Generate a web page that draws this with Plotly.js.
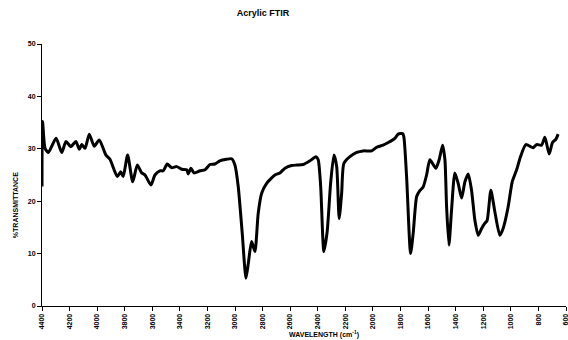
<!DOCTYPE html>
<html><head><meta charset="utf-8">
<script src="https://cdn.plot.ly/plotly-3.0.1.min.js"></script>
<style>html,body{margin:0;padding:0;background:#fff}#chart{width:568px;height:340px}</style>
</head><body><div id="chart"></div>
<script>
const wavenumber = [4400,4396,4378,4354,4298,4257,4226,4192,4154,4130,4112,4088,4057,4021,3985,3936,3907,3854,3829,3811,3779,3742,3709,3677,3653,3610,3581,3545,3521,3492,3460,3423,3387,3351,3339,3320,3298,3254,3218,3182,3146,3110,3061,3025,3001,2977,2948,2921,2904,2880,2856,2832,2807,2771,2711,2675,2638,2590,2553,2506,2457,2414,2397,2379,2356,2332,2307,2283,2263,2245,2227,2211,2167,2118,2071,2010,1973,1926,1889,1841,1817,1785,1776,1756,1727,1708,1683,1660,1636,1611,1587,1544,1520,1495,1478,1466,1449,1430,1406,1382,1357,1333,1309,1285,1261,1237,1212,1188,1172,1145,1116,1080,1056,1019,990,958,930,891,838,813,777,753,722,698,674,657];
const transmittance = [22.8,35.2,30.1,29.3,32.0,29.3,31.4,30.4,31.4,29.9,30.8,30.1,32.8,30.5,31.7,28.8,28.0,24.7,25.6,24.7,28.8,23.7,26.9,25.4,25.0,23.1,25.0,25.8,25.8,27.1,26.4,26.6,26.1,26.0,25.2,26.3,25.4,25.8,26.0,27.0,27.1,27.7,28.0,28.1,26.9,22.8,13.9,5.3,8.1,12.3,10.4,17.7,21.5,23.4,25.0,25.4,26.3,26.8,26.9,27.0,27.7,28.5,27.9,22.8,10.4,14.2,23.4,28.8,26.6,16.7,21.5,27.2,28.5,29.3,29.6,29.6,30.3,30.7,31.2,32.0,32.8,32.9,32.3,24.7,10.0,13.9,20.9,22.0,22.7,25.0,27.9,26.3,27.9,30.7,27.9,19.0,11.6,18.3,25.4,23.4,20.6,23.7,25.2,22.1,16.4,13.5,14.8,15.8,16.3,22.1,18.0,13.5,14.8,19.0,23.7,26.0,28.5,30.8,30.2,30.8,30.7,32.2,29.0,31.2,31.8,32.8];
const xTicks = [4400,4200,4000,3800,3600,3400,3200,3000,2800,2600,2400,2200,2000,1800,1600,1400,1200,1000,800,600];
const yTicks = [0,10,20,30,40,50];

const fontFam = '"Liberation Sans", Arial, sans-serif';
const boldFont = (s) => ({family: fontFam, size: s, weight: 'bold', color: '#000'});
Plotly.newPlot('chart', [{
  x: wavenumber, y: transmittance, type: 'scatter', mode: 'lines',
  line: {color: '#000', width: 3, shape: 'spline', smoothing: 0.6},
  hoverinfo: 'skip'
}], {
  width: 568, height: 340,
  margin: {l: 42, r: 2, t: 44, b: 34},
  paper_bgcolor: '#fff', plot_bgcolor: '#fff',
  showlegend: false,
  title: {text: 'Acrylic FTIR', font: boldFont(9), x: 0.463, xanchor: 'center', y: 0.962, yanchor: 'middle'},
  xaxis: {
    range: [4400, 600], tickvals: xTicks, ticktext: xTicks.map(String), tickangle: -90,
    ticklabeloverflow: 'allow',
    showgrid: false, zeroline: false, showline: true, linecolor: '#000', linewidth: 1,
    ticks: 'outside', ticklen: 4, tickcolor: '#000',
    tickfont: boldFont(7)
  },
  yaxis: {
    range: [0, 50], tickvals: yTicks,
    showgrid: false, zeroline: false, showline: true, linecolor: '#000', linewidth: 1,
    ticks: 'outside', ticklen: 4, tickcolor: '#000',
    tickfont: boldFont(7)
  },
  annotations: [{
    text: 'WAVELENGTH (cm<sup>-1</sup>)', xref: 'paper', yref: 'paper',
    x: 0.538, y: -0.108, xanchor: 'center', yanchor: 'middle', showarrow: false,
    font: boldFont(7)
  }, {
    text: '%TRANSMITTANCE', xref: 'paper', yref: 'paper', textangle: -90,
    x: -0.0515, y: 0.385, xanchor: 'center', yanchor: 'middle', showarrow: false,
    font: boldFont(7)
  }]
}, {staticPlot: true, displayModeBar: false});
</script></body></html>
